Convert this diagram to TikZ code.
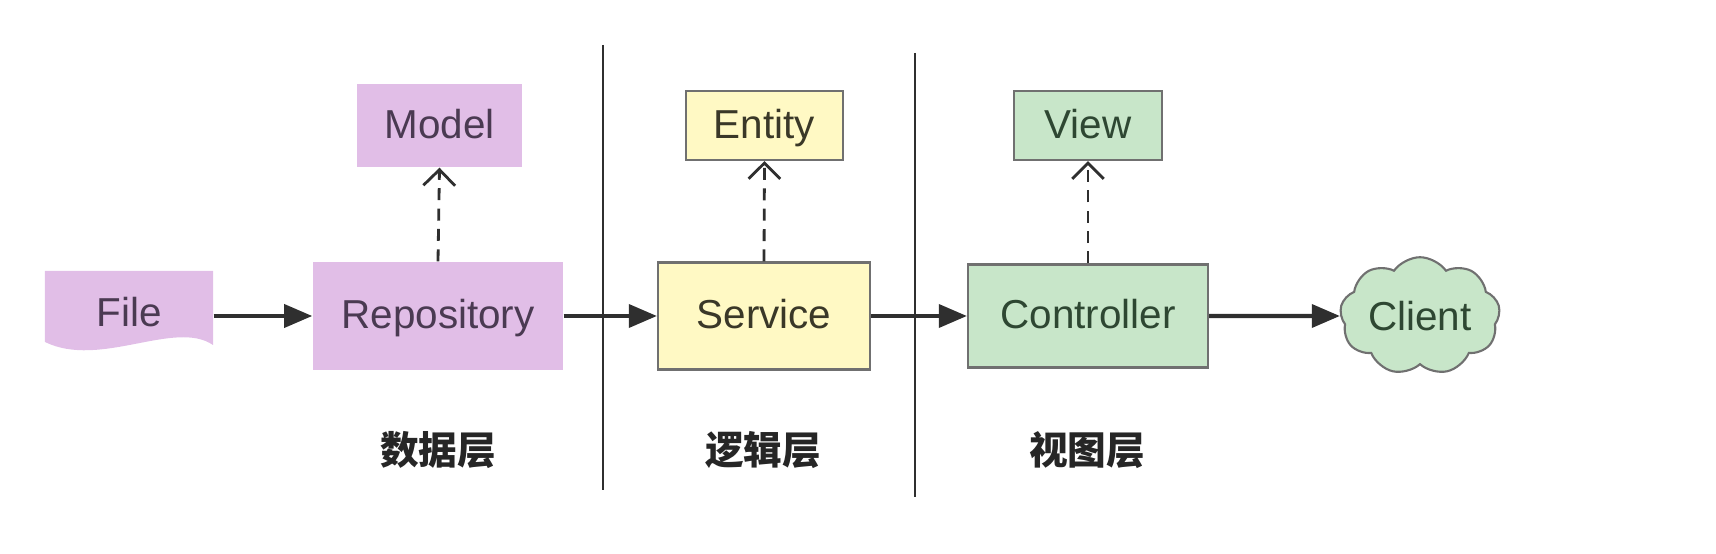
\documentclass[tikz,border=0pt]{standalone}
\usepackage{fontspec}
\setmainfont{Liberation Sans}
\newfontfamily\cjk{Noto Sans CJK SC}
\usetikzlibrary{arrows.meta,shapes.symbols}

\definecolor{datafill}{HTML}{E1BEE7}
\definecolor{datatext}{HTML}{4A3A52}
\definecolor{logicfill}{HTML}{FFF9C4}
\definecolor{logictext}{HTML}{3A3828}
\definecolor{viewfill}{HTML}{C8E6C9}
\definecolor{viewtext}{HTML}{2E4732}
\definecolor{edgegray}{HTML}{707070}
\definecolor{linedark}{HTML}{2F2F2F}

\tikzset{
    layerbox/.style={rectangle, inner sep=0pt, text height=0.9em, text depth=0.18em, font=\fontsize{11.5}{14}\selectfont},
    databox/.style={layerbox, fill=datafill, text=datatext},
    logicbox/.style={layerbox, fill=logicfill, draw=edgegray, line width=0.6pt, text=logictext},
    viewbox/.style={layerbox, fill=viewfill, draw=edgegray, line width=0.6pt, text=viewtext},
    flow/.style={draw=linedark, line width=1.2pt, -{Triangle[length=8pt,width=6.5pt]}},
    dep/.style={draw=linedark, line width=0.8pt, dash pattern=on 3.4pt off 2.4pt, -{Straight Barb[length=4.5pt,width=9pt]}},
    divider/.style={draw=linedark, line width=0.8pt},
    layerlabel/.style={font=\cjk\bfseries\fontsize{11}{13}\selectfont, text=black!85}
}

\begin{document}
\begin{tikzpicture}
        \useasboundingbox (0,0) rectangle (17.16,5.54);

        % layer dividers
        \draw[divider] (6.03,5.09) -- (6.03,0.64);
        \draw[divider] (9.15,5.01) -- (9.15,0.57);

        % File (document shape)
        \fill[datafill] (0.45,2.83) -- (2.13,2.83) -- (2.13,2.09)
            .. controls (1.75,2.35) and (1.0,1.85) .. (0.45,2.12) -- cycle;
        \node[layerbox, text=datatext, minimum width=1.68cm, minimum height=0.6cm] (file) at (1.29,2.40) {File};

        % data layer
        \node[databox, minimum width=2.50cm, minimum height=1.08cm] (repo) at (4.38,2.38) {Repository};
        \node[databox, minimum width=1.65cm, minimum height=0.83cm] (model) at (4.395,4.285) {Model};

        % logic layer
        \node[logicbox, minimum width=2.12cm, minimum height=1.07cm] (service) at (7.64,2.38) {Service};
        \node[logicbox, minimum width=1.57cm, minimum height=0.69cm] (entity) at (7.645,4.285) {Entity};

        % view layer
        \node[viewbox, minimum width=2.40cm, minimum height=1.03cm] (controller) at (10.88,2.38) {Controller};
        \node[viewbox, minimum width=1.48cm, minimum height=0.69cm] (view) at (10.88,4.285) {View};

        % Client cloud
        \node[cloud, cloud puffs=9, cloud puff arc=110, aspect=1.5, fill=viewfill, draw=edgegray,
              line width=0.6pt, text=viewtext, inner sep=0pt, minimum width=1.6cm, minimum height=1.05cm,
              font=\fontsize{11.5}{14}\selectfont] (client) at (14.20,2.38) {Client};

        % main flow
        \draw[flow] (file.east |- repo.west) -- (repo.west);
        \draw[flow] (repo.east) -- (service.west);
        \draw[flow] (service.east) -- (controller.west);
        \draw[flow] (controller.east) -- (client.west);

        % dependencies
        \draw[dep] (repo.north) -- (model.south);
        \draw[dep] (service.north) -- (entity.south);
        \draw[dep] (controller.north) -- (view.south);

        % layer names
        \node[layerlabel] (datalabel) at (4.38,1.04) {数据层};
        \node[layerlabel] (logiclabel) at (7.63,1.04) {逻辑层};
        \node[layerlabel] (viewlabel) at (10.87,1.04) {视图层};

\end{tikzpicture}
\end{document}
